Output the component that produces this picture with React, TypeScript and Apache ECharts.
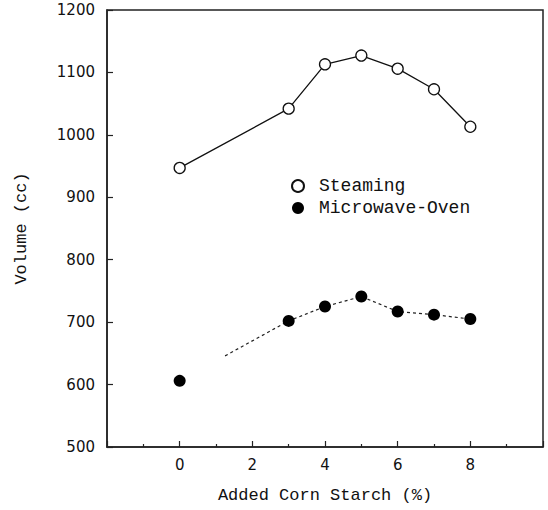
import React, { useEffect, useRef } from "react";
import * as echarts from "echarts";

// Added corn starch (%)
const starchLevels = [0, 3, 4, 5, 6, 7, 8];
// Volume (cc)
const steamingVolume = [947, 1042, 1113, 1127, 1106, 1073, 1013];
const microwaveVolume = [606, 702, 725, 741, 717, 712, 705];
// start point of the dashed trend line for the microwave-oven series
const microwaveDashStart = [1.25, 646];

const seriesNames = ["Steaming", "Microwave-Oven"];
const xAxisTitle = "Added Corn Starch (%)";
const yAxisTitle = "Volume (cc)";

const MONO = "'Liberation Mono', 'DejaVu Sans Mono', monospace";
const SANS = "'DejaVu Sans', sans-serif";
const INK = "#111";

export default function App() {
  const ref = useRef<HTMLDivElement>(null);

  useEffect(() => {
    document.body.style.margin = "0";
    if (!ref.current) return;
    const chart = echarts.init(ref.current, undefined, { renderer: "svg" });

    const steamingData = starchLevels.map((x, i) => [x, steamingVolume[i]]);
    const microwaveData = starchLevels.map((x, i) => [x, microwaveVolume[i]]);
    const dashData = [microwaveDashStart, ...microwaveData.slice(1)];

    chart.setOption({
      animation: false,
      backgroundColor: "#fff",
      grid: {
        left: 107,
        right: 5,
        top: 10,
        bottom: 63,
        show: true,
        borderColor: "#222",
        borderWidth: 1.5,
        backgroundColor: "transparent",
      },
      legend: {
        orient: "vertical",
        left: 286,
        top: 172,
        itemWidth: 12,
        itemHeight: 12,
        itemGap: 4,
        data: [
          { name: seriesNames[0], icon: "circle" },
          { name: seriesNames[1], icon: "circle" },
        ],
        textStyle: {
          fontFamily: MONO,
          fontSize: 18,
          color: INK,
          padding: [0, 0, 0, 10],
        },
      },
      xAxis: {
        type: "value",
        min: -2,
        max: 10,
        interval: 2,
        name: xAxisTitle,
        nameLocation: "middle",
        nameGap: 40,
        nameTextStyle: { fontFamily: MONO, fontSize: 17, color: INK },
        axisLine: { show: true, onZero: false, lineStyle: { color: "#222", width: 1.5 } },
        axisTick: { show: true, inside: true, length: 6, lineStyle: { color: "#222", width: 1.2 } },
        minorTick: { show: true, splitNumber: 2, length: 3, lineStyle: { color: "#222", width: 1.2 } },
        splitLine: { show: false },
        axisLabel: {
          showMinLabel: false,
          showMaxLabel: false,
          margin: 10,
          fontFamily: SANS,
          fontSize: 15,
          color: INK,
        },
      },
      yAxis: {
        type: "value",
        min: 500,
        max: 1200,
        interval: 100,
        name: yAxisTitle,
        nameLocation: "middle",
        nameGap: 77,
        nameTextStyle: { fontFamily: MONO, fontSize: 17, color: INK },
        axisLine: { show: true, onZero: false, lineStyle: { color: "#222", width: 1.5 } },
        axisTick: { show: true, inside: true, length: 6, lineStyle: { color: "#222", width: 1.2 } },
        splitLine: { show: false },
        axisLabel: {
          margin: 12,
          fontFamily: SANS,
          fontSize: 15,
          color: INK,
          formatter: (v: number) => String(v),
        },
      },
      series: [
        {
          name: seriesNames[0],
          type: "line",
          data: steamingData,
          symbol: "circle",
          symbolSize: 11,
          showAllSymbol: true,
          itemStyle: { color: "#fff", borderColor: INK, borderWidth: 1.3, opacity: 1 },
          lineStyle: { color: INK, width: 1.3 },
          z: 3,
        },
        {
          name: "microwave-trend",
          type: "line",
          data: dashData,
          symbol: "none",
          lineStyle: { color: "#222", width: 1.2, type: [3, 3] },
          z: 2,
        },
        {
          name: seriesNames[1],
          type: "scatter",
          data: microwaveData,
          symbol: "circle",
          symbolSize: 12,
          itemStyle: { color: "#000", opacity: 1 },
          z: 4,
        },
      ],
    });

    return () => chart.dispose();
  }, []);

  return <div ref={ref} style={{ width: 548, height: 510 }} />;
}
